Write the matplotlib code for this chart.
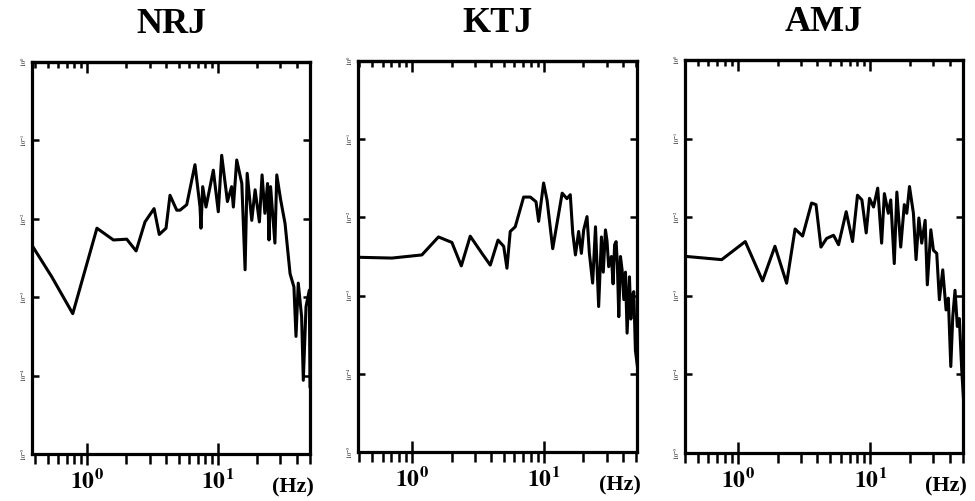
import numpy as np
import matplotlib
matplotlib.use("Agg")
import matplotlib.pyplot as plt
from matplotlib.ticker import FixedLocator, FuncFormatter, NullFormatter

plt.rcParams['mathtext.fontset'] = 'stix'
plt.rcParams['font.family'] = ['Liberation Serif', 'DejaVu Serif']

titles = ["NRJ", "KTJ", "AMJ"]

# ---- NRJ: frequency (Hz) and log10 power ----
nrj_freq = [0.387, 0.538, 0.778, 1.19, 1.59, 2.01, 2.37, 2.77, 3.25, 3.56, 4.01, 4.30,
            4.84, 5.13, 5.77, 6.67, 7.29, 7.41, 7.64, 8.10, 9.21, 10.05, 10.67, 11.8,
            12.7, 13.1, 13.9, 15.2, 16.1, 16.7, 18.1, 19.2, 20.7, 21.7, 22.8, 23.9,
            24.5, 25.2, 27.2, 28.1, 30.1, 32.5, 35.5, 38.0, 39.4, 41.0, 43.5, 44.8,
            47.0, 49.8, 50.4]
nrj_logp = [-2.36, -2.74, -3.21, -2.12, -2.27, -2.26, -2.41, -2.04, -1.87, -2.20, -2.12, -1.70,
            -1.89, -1.89, -1.82, -1.31, -1.85, -2.12, -1.59, -1.85, -1.38, -1.91, -1.19, -1.78,
            -1.59, -1.85, -1.25, -1.55, -2.65, -1.42, -2.02, -1.63, -2.04, -1.44, -1.93, -1.55,
            -2.27, -1.59, -2.31, -1.44, -1.76, -2.06, -2.70, -2.87, -3.50, -2.82, -3.25, -4.06,
            -3.12, -2.91, -4.14]

# ---- KTJ ----
ktj_freq = [0.393, 0.705, 1.19, 1.59, 2.01, 2.37, 2.77, 3.40, 3.93, 4.50, 4.97, 5.26,
            5.57, 6.08, 7.04, 7.91, 8.74, 9.15, 9.98, 10.6, 11.7, 13.8, 15.0, 15.9,
            16.6, 17.4, 18.4, 19.3, 20.1, 21.3, 22.2, 23.5, 24.7, 26.1, 27.4, 28.3,
            29.4, 30.2, 31.1, 32.6, 33.6, 34.5, 35.4, 36.2, 37.1, 38.2, 39.3, 40.5,
            41.7, 42.9, 44.7, 45.8, 46.8, 48.2, 49.6, 51.4]
ktj_logp = [-2.51, -2.52, -2.48, -2.25, -2.32, -2.62, -2.24, -2.46, -2.61, -2.29, -2.37, -2.65,
            -2.18, -2.12, -1.74, -1.74, -1.80, -2.05, -1.56, -1.78, -2.40, -1.69, -1.76, -1.71,
            -2.20, -2.48, -2.18, -2.46, -2.16, -1.99, -2.46, -2.84, -2.12, -3.14, -2.25, -2.70,
            -2.16, -2.30, -2.63, -2.50, -2.85, -2.35, -2.31, -2.60, -3.27, -2.50, -2.67, -3.05,
            -2.70, -3.48, -2.76, -3.30, -3.01, -2.95, -3.70, -3.91]

# ---- AMJ ----
amj_freq = [0.413, 0.757, 1.14, 1.54, 1.91, 2.34, 2.71, 3.09, 3.61, 3.90, 4.25, 4.69,
            5.29, 5.77, 6.59, 7.36, 8.02, 8.66, 9.33, 9.88, 10.6, 11.4, 12.2, 12.8,
            13.7, 14.3, 15.2, 15.9, 17.0, 18.1, 18.9, 19.8, 21.2, 22.2, 23.3, 24.5,
            26.0, 27.0, 28.7, 30.0, 31.8, 33.3, 35.3, 37.4, 38.9, 40.6, 42.0, 43.7,
            45.5, 47.1, 49.1, 50.7]
amj_logp = [-2.50, -2.54, -2.31, -2.81, -2.37, -2.84, -2.15, -2.24, -1.82, -1.84, -2.38, -2.27,
            -2.23, -2.35, -1.93, -2.31, -1.72, -1.78, -2.20, -1.76, -1.87, -1.63, -2.33, -1.70,
            -1.95, -1.78, -2.59, -1.68, -2.38, -1.84, -1.95, -1.61, -1.95, -2.54, -2.01, -2.33,
            -2.04, -2.86, -2.16, -2.42, -2.46, -3.05, -2.67, -3.18, -3.03, -3.90, -3.27, -2.93,
            -3.39, -3.29, -3.94, -4.33]

series = [(nrj_freq, nrj_logp), (ktj_freq, ktj_logp), (amj_freq, amj_logp)]

x_range = [(0.38, 50.4), (0.39, 51.0), (0.40, 50.2)]
y_range = (1e-5, 1e0)
y_decades = [1e-5, 1e-4, 1e-3, 1e-2, 1e-1, 1e0]
x_major = [1.0, 10.0]
x_minor = [0.4, 0.5, 0.6, 0.7, 0.8, 0.9, 2, 3, 4, 5, 6, 7, 8, 9, 20, 30, 40, 50]

positions = [
    [32/975, (501-454)/501, 278/975, 392/501],
    [358/975, (501-452)/501, 279/975, 391/501],
    [685/975, (501-453)/501, 278/975, 393/501],
]

fig = plt.figure(figsize=(9.75, 5.01), dpi=100)
for i in range(3):
    ax = fig.add_axes(positions[i])
    f, lp = series[i]
    ax.plot(f, 10.0 ** np.array(lp), color='black', lw=2.2, solid_joinstyle='round')
    ax.set_xscale('log')
    ax.set_yscale('log')
    ax.set_xlim(*x_range[i])
    ax.set_ylim(*y_range)
    for s in ax.spines.values():
        s.set_linewidth(2.3)
    ax.xaxis.set_major_locator(FixedLocator(x_major))
    ax.xaxis.set_minor_locator(FixedLocator(x_minor))
    ax.xaxis.set_major_formatter(FuncFormatter(
        lambda v, p: r'$\mathbf{10^{%d}}$' % int(round(np.log10(v)))))
    ax.xaxis.set_minor_formatter(NullFormatter())
    ax.yaxis.set_major_locator(FixedLocator(y_decades))
    ax.yaxis.set_minor_locator(FixedLocator([]))
    ax.yaxis.set_major_formatter(FuncFormatter(
        lambda v, p: r'$10^{%d}$' % int(round(np.log10(v)))))
    ax.tick_params(axis='x', which='both', top=False, bottom=True,
                   width=1.8, labelsize=17, pad=3)
    ax.tick_params(axis='x', which='major', direction='inout', length=16)
    ax.tick_params(axis='x', which='minor', direction='out', length=7)
    ax.tick_params(axis='y', which='major', direction='in', left=True, right=True,
                   width=1.8, length=5, labelsize=4.5, pad=2)
    for lab in ax.get_yticklabels():
        lab.set_rotation(90)
        lab.set_va('center')
        lab.set_fontweight('bold')
    # inward ticks along the top edge
    top = ax.secondary_xaxis('top')
    top.xaxis.set_major_locator(FixedLocator(x_major))
    top.xaxis.set_minor_locator(FixedLocator(x_minor))
    top.xaxis.set_major_formatter(NullFormatter())
    top.xaxis.set_minor_formatter(NullFormatter())
    top.tick_params(axis='x', which='both', direction='in', width=1.8)
    top.tick_params(axis='x', which='major', length=8)
    top.tick_params(axis='x', which='minor', length=4)
    top.spines['top'].set_linewidth(2.3)
    ax.set_title(titles[i], fontsize=26, fontweight='bold', pad=21)
    ax.text(0.94, -0.085, '(Hz)', transform=ax.transAxes, ha='center', va='center',
            fontsize=16, fontweight='bold')

fig.savefig('out.png', dpi=100, facecolor='white')
